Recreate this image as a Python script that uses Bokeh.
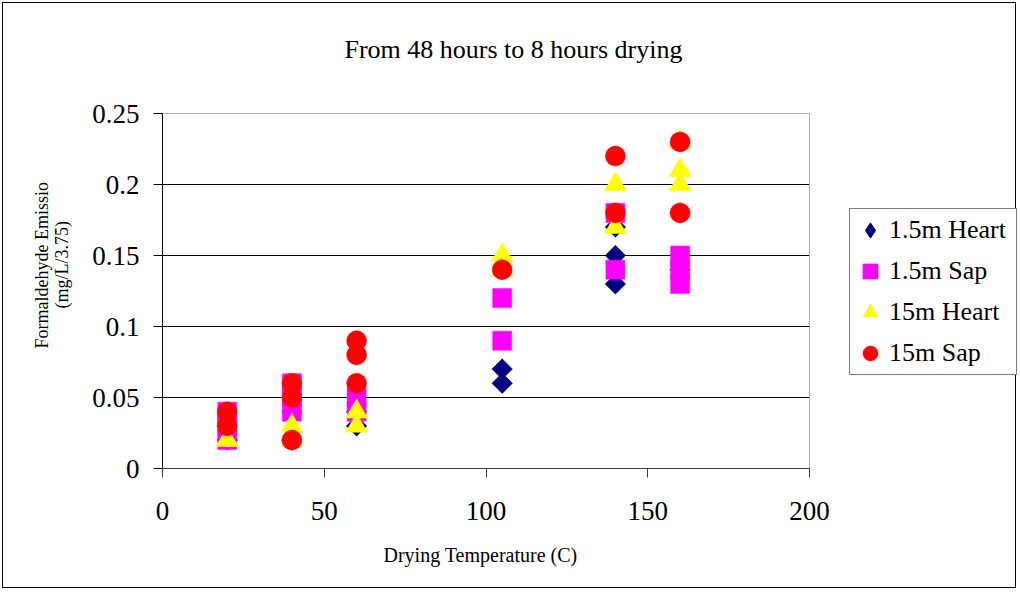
import math
from bokeh.plotting import figure
from bokeh.models import (Range1d, FixedTicker, Legend, LegendItem, Title, Label,
                          ColumnDataSource)
from bokeh.embed import file_html
from bokeh.resources import INLINE

# ---------------- data ----------------
title_text = "From 48 hours to 8 hours drying"
x_label_text = "Drying Temperature (C)"
y_label_line1 = "Formaldehyde Emissio"
y_label_line2 = "(mg/L/3.75)"

x_ticks = [0, 50, 100, 150, 200]
y_ticks = [0, 0.05, 0.1, 0.15, 0.2, 0.25]
y_tick_labels = ["0", "0.05", "0.1", "0.15", "0.2", "0.25"]
grid_ticks = [0.05, 0.1, 0.15, 0.2]

series_names = ["1.5m Heart", "1.5m Sap", "15m Heart", "15m Sap"]

heart_1_5_x = [20, 20, 40, 40, 60, 60, 105, 105, 140, 140, 140, 160, 160]
heart_1_5_y = [0.02, 0.03, 0.02, 0.04, 0.03, 0.04, 0.06, 0.07, 0.13, 0.15, 0.17, 0.14, 0.18]

sap_1_5_x = [20, 20, 20, 40, 40, 40, 60, 60, 105, 105, 140, 140, 160, 160, 160]
sap_1_5_y = [0.02, 0.03, 0.04, 0.04, 0.05, 0.06, 0.04, 0.05, 0.09, 0.12, 0.14, 0.18, 0.13, 0.14, 0.15]

heart_15_x = [20, 20, 40, 40, 60, 60, 105, 105, 140, 140, 160, 160, 160]
heart_15_y = [0.02, 0.02, 0.02, 0.03, 0.03, 0.04, 0.14, 0.15, 0.17, 0.20, 0.20, 0.21, 0.23]

sap_15_x = [20, 20, 40, 40, 40, 60, 60, 60, 105, 140, 140, 160, 160]
sap_15_y = [0.03, 0.04, 0.02, 0.05, 0.06, 0.06, 0.08, 0.09, 0.14, 0.18, 0.22, 0.18, 0.23]

# ---------------- layout (pixels) ----------------
FONT = "Liberation Serif"
W, H = 1014, 586            # canvas (page has 2px margin + 1px border)
LEFT, BOTTOM = 159, 121     # space for the axes
PLOT_W, PLOT_H = 647, 355   # pixel size of the 0..200 x 0..0.25 data box

x_end = x_ticks[-1] * (W - LEFT) / PLOT_W
y_end = y_ticks[-1] * (H - BOTTOM) / PLOT_H

p = figure(width=W, height=H, x_range=Range1d(x_ticks[0], x_end),
           y_range=Range1d(y_ticks[0], y_end), title=None,
           output_backend="svg", toolbar_location=None,
           min_border_left=LEFT, min_border_right=0, min_border_top=0,
           min_border_bottom=BOTTOM)
p.margin = (2, 2, 2, 2)
p.styles = {"border": "1px solid black"}
p.background_fill_color = "white"
p.border_fill_color = "white"
p.outline_line_color = None
p.xgrid.visible = False
p.ygrid.visible = False

for ax in (p.xaxis[0], p.yaxis[0]):
    ax.major_label_text_font = FONT
    ax.major_label_text_font_size = "27px"
    ax.major_label_text_color = "black"
    ax.minor_tick_line_color = None
    ax.major_tick_in = 0
    ax.axis_line_width = 1
    ax.major_tick_line_width = 1

p.xaxis.ticker = FixedTicker(ticks=x_ticks)
p.xaxis.bounds = (x_ticks[0], x_ticks[-1])
p.xaxis.major_tick_out = 9
p.xaxis.major_label_standoff = 24
p.xaxis.axis_line_color = "#404040"
p.xaxis.major_tick_line_color = "#404040"

p.yaxis.ticker = FixedTicker(ticks=y_ticks)
p.yaxis.bounds = (y_ticks[0], y_ticks[-1])
p.yaxis.major_label_overrides = dict(zip(y_ticks, y_tick_labels))
p.yaxis.major_tick_out = 9
p.yaxis.major_label_standoff = 14
p.yaxis.axis_line_color = "black"
p.yaxis.major_tick_line_color = "black"

# horizontal grid lines and the light plot-area edge (top / right)
p.segment(x0=x_ticks[0], x1=x_ticks[-1], y0=grid_ticks, y1=grid_ticks,
          line_color="black", line_width=1)
p.segment(x0=[x_ticks[0], x_ticks[-1]], x1=[x_ticks[-1], x_ticks[-1]],
          y0=[y_ticks[-1], y_ticks[0]], y1=[y_ticks[-1], y_ticks[-1]],
          line_color="#b0b0b0", line_width=1)

# x axis label, centred under the 0..200 span
xl = Title(text=x_label_text, align="left", offset=221, standoff=42,
           vertical_align="top", text_font=FONT, text_font_size="20px",
           text_line_height=0.5,
           text_font_style="normal", text_color="black")
p.add_layout(xl, "below")

# y axis label: two lines, as titles in the left panel
t2 = Title(text=y_label_line2, align="left", offset=160, standoff=35,
           text_font=FONT, text_font_size="18px", text_font_style="normal",
           text_color="black")
t1 = Title(text=y_label_line1, align="left", offset=120, standoff=-38,
           text_font=FONT, text_font_size="18px", text_font_style="normal",
           text_color="black")
p.add_layout(t2, "left")
p.add_layout(t1, "left")

# chart title
p.add_layout(Label(x=108.5, y=0.2951, text=title_text, text_font=FONT,
                   text_font_size="26px", text_align="center",
                   text_baseline="alphabetic", text_color="black"))

# ---------------- markers ----------------
src_h15 = ColumnDataSource(dict(x=heart_1_5_x, y=heart_1_5_y))
src_s15 = ColumnDataSource(dict(x=sap_1_5_x, y=sap_1_5_y))
src_h150 = ColumnDataSource(dict(x=heart_15_x, y=heart_15_y))
src_s150 = ColumnDataSource(dict(x=sap_15_x, y=sap_15_y))

NAVY, MAG, YEL, RED = "#000080", "#FF00FF", "#FFFF00", "#FF0000"

# diamond used for the legend glyph; fully hidden under the rotated square below
r_h15_leg = p.scatter("x", "y", source=src_h15, marker="diamond", size=19,
                      fill_color=NAVY, line_color=NAVY)
r_h15 = p.scatter("x", "y", source=src_h15, marker="square", angle=math.pi / 4,
                  size=14.5, fill_color=NAVY, line_color=NAVY, line_width=0.5)
r_s15 = p.scatter("x", "y", source=src_s15, marker="square", size=19,
                  fill_color=MAG, line_color=MAG, line_width=0.5)
r_h150 = p.scatter("x", "y", source=src_h150, marker="triangle", size=22,
                   fill_color=YEL, line_color=YEL, line_width=0.5)
r_s150 = p.scatter("x", "y", source=src_s150, marker="circle", size=20,
                   fill_color=RED, line_color=RED, line_width=0.5)

legend = Legend(items=[LegendItem(label=n, renderers=[r]) for n, r in
                       zip(series_names, [r_h15_leg, r_s15, r_h150, r_s150])],
                location=(687, 93))
legend.label_text_font = FONT
legend.label_text_font_size = "26px"
legend.label_text_color = "black"
legend.glyph_width = 38
legend.glyph_height = 40
legend.label_height = 40
legend.label_width = 126
legend.label_standoff = 0
legend.spacing = 1
legend.padding = 1
legend.margin = 0
legend.border_line_color = "black"
legend.border_line_width = 1
legend.background_fill_color = "white"
legend.background_fill_alpha = 1
p.add_layout(legend)

open("out.html", "w").write(file_html(p, INLINE))
